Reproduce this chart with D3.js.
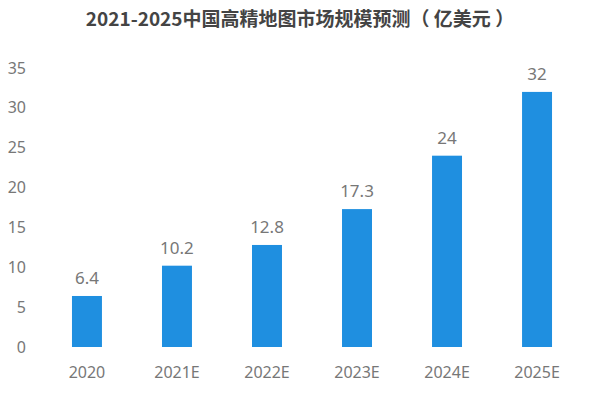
<!DOCTYPE html>
<html><head><meta charset="utf-8">
<script src="https://cdn.jsdelivr.net/npm/d3@7"></script>
<style>body{margin:0;background:#fff;font-family:"Noto Sans CJK SC","Noto Sans",sans-serif;}</style>
</head><body>
<script>
var years = ['2020', '2021E', '2022E', '2023E', '2024E', '2025E'];
var values = [6.4, 10.2, 12.8, 17.3, 24, 32];
var yTicks = [0, 5, 10, 15, 20, 25, 30, 35];

var svg = d3.select('body').append('svg').attr('width', 600).attr('height', 400);

svg.append('text')
    .attr('x', 300).attr('y', 26)
    .attr('text-anchor', 'middle')
    .style('font-size', '19px').style('font-weight', 'bold').style('fill', '#444')
    .text('2021-2025中国高精地图市场规模预测（ 亿美元 ）');

var x = d3.scaleBand().domain(years).range([42, 582]).paddingInner(0.667).paddingOuter(0.333);
var y = d3.scaleLinear().domain([0, 35]).range([347, 68]);

var yAxis = svg.append('g').attr('transform', 'translate(26,0)')
    .call(d3.axisLeft(y).tickValues(yTicks).tickSize(0).tickPadding(0));
yAxis.select('.domain').remove();
yAxis.selectAll('text').style('font-size', '16px').style('fill', '#777')
    .style('font-family', '"Noto Sans", sans-serif');

var xAxis = svg.append('g').attr('transform', 'translate(0,347)')
    .call(d3.axisBottom(x).tickSize(0).tickPadding(20));
xAxis.select('.domain').remove();
xAxis.selectAll('text').style('font-size', '16px').style('fill', '#777')
    .style('font-family', '"Noto Sans", sans-serif');

svg.selectAll('.bar').data(values).enter().append('rect')
    .attr('class', 'bar')
    .attr('x', function(d, i) { return x(years[i]); })
    .attr('y', function(d) { return y(d); })
    .attr('width', x.bandwidth())
    .attr('height', function(d) { return y(0) - y(d); })
    .style('fill', '#1f8fe0');

svg.selectAll('.lbl').data(values).enter().append('text')
    .attr('class', 'lbl')
    .attr('x', function(d, i) { return x(years[i]) + x.bandwidth() / 2; })
    .attr('y', function(d) { return y(d) - 12; })
    .attr('text-anchor', 'middle')
    .style('font-size', '17px').style('fill', '#777')
    .style('font-family', '"Noto Sans", sans-serif')
    .text(function(d) { return d; });
</script>
</body></html>
